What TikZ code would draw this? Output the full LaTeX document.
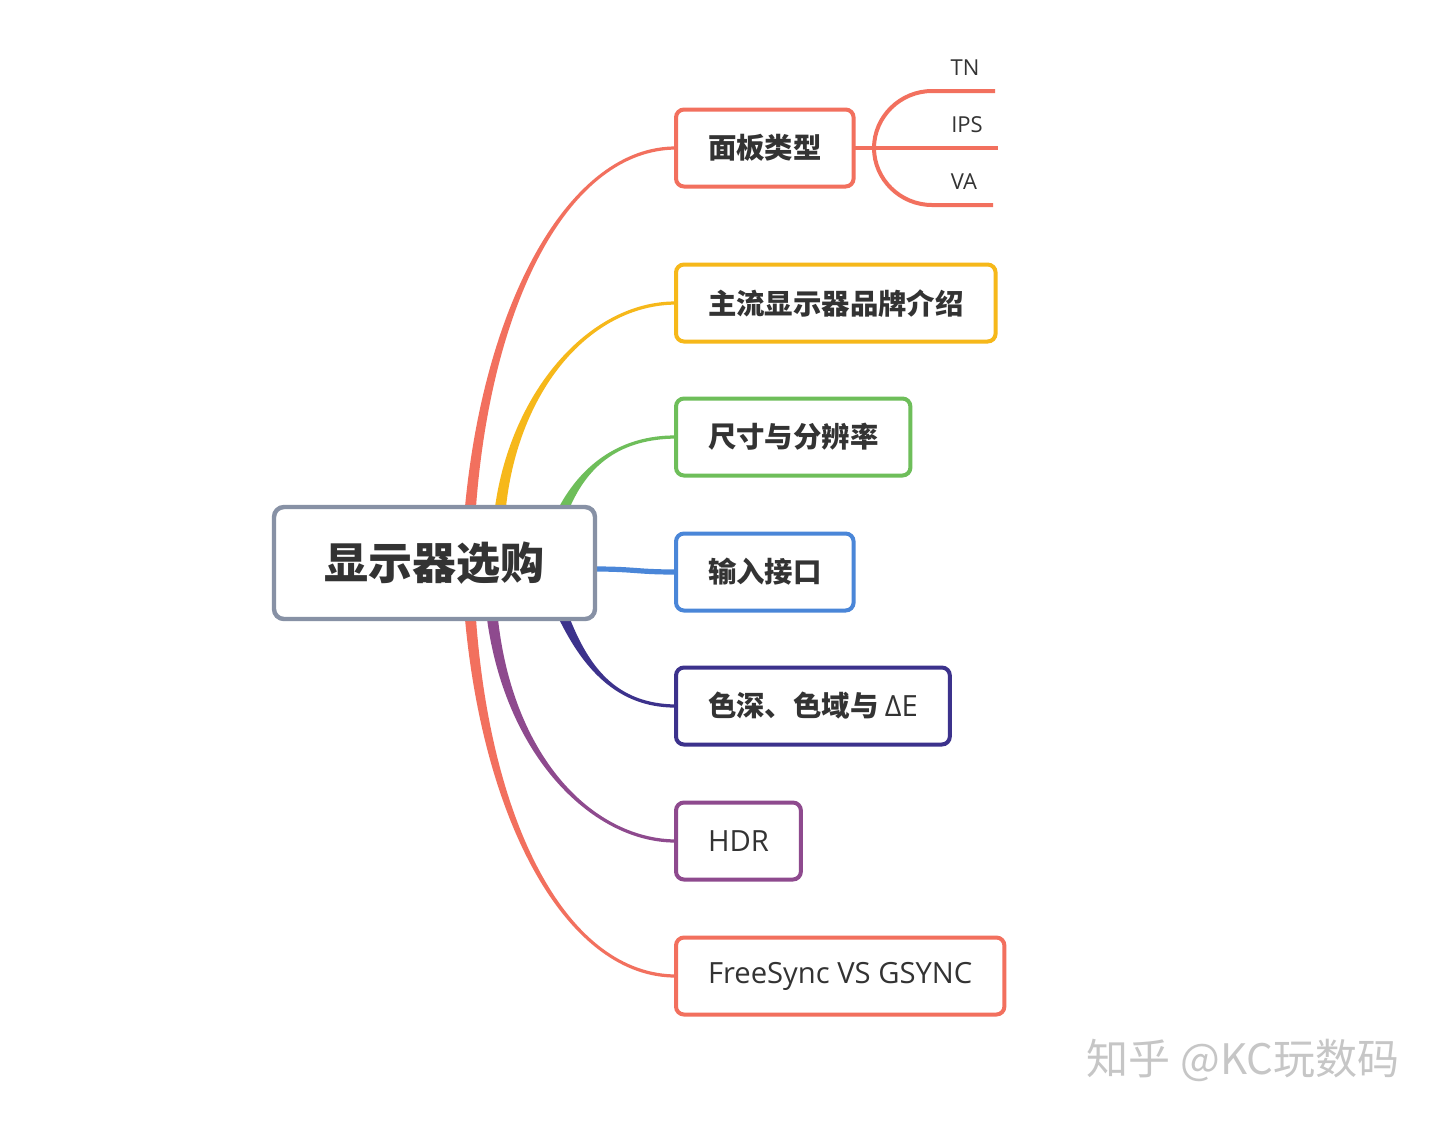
\documentclass[tikz,border=0pt]{standalone}
\usepackage{fontspec}
\setmainfont{Open Sans}
\newfontfamily\cjk{Noto Sans CJK SC}
\usetikzlibrary{calc}
\definecolor{salmon}{RGB}{242,112,94}
\definecolor{amber}{RGB}{246,184,26}
\definecolor{leafgreen}{RGB}{110,190,90}
\definecolor{skyblue}{RGB}{74,134,216}
\definecolor{navy}{RGB}{60,50,140}
\definecolor{plum}{RGB}{142,74,142}
\definecolor{hubgray}{RGB}{135,145,165}
\definecolor{ink}{RGB}{51,51,51}
\pgfdeclarelayer{bg}
\pgfdeclarelayer{branches}
\pgfsetlayers{bg,branches,main}
\tikzset{
  hubbox/.style={draw=hubgray, line width=2.2pt, rounded corners=5pt, fill=white,
    minimum width=160.5pt, minimum height=56pt, outer sep=0pt, text=ink,
    font=\cjk\bfseries\fontsize{22pt}{26pt}\selectfont},
  topic/.style={draw=#1, line width=2pt, rounded corners=4pt, fill=white, anchor=west,
    minimum height=38.5pt, inner xsep=16pt, outer sep=0pt, text=ink,
    font=\cjk\bfseries\fontsize{14.2pt}{16pt}\selectfont},
  latintopic/.style={topic=#1, font=\fontsize{14.6pt}{16pt}\selectfont},
  leaf/.style={text=ink, font=\fontsize{11pt}{13pt}\selectfont},
  subline/.style={draw=salmon, line width=2pt},
  watermark/.style={text=gray!45, font=\cjk\fontsize{21pt}{24pt}\selectfont}
}
% tapered branch: colour, root, control 1, control 2, end, side (1 up, -1 down)
\newcommand\branch[6]{%
  \fill[#1] ($(#2)+(-5.5,0)$) .. controls ($(#3)+(-3.5,0)$) and ($(#4)+(0,{-2*#6})$) .. ($(#5)+(0,{-1.6*#6})$)
    -- ($(#5)+(0,{1.6*#6})$) .. controls ($(#4)+(0,{2*#6})$) and ($(#3)+(3.5,0)$) .. ($(#2)+(5.5,0)$) -- cycle
}

\begin{document}
\begin{tikzpicture}[x=0.5pt, y=-0.5pt]
        \useasboundingbox (0,0) rectangle (1440,1121);
        \begin{pgfonlayer}{bg}
          \fill[white] (0,0) rectangle (1440,1121);
        \end{pgfonlayer}

        % The centre
        \node[hubbox] (hub) at (434.5,563) {显示器选购};

        % The topics
        \node[topic=salmon] (panel) at (676,148) {面板类型};
        \node[topic=amber] (brand) at (676,303) {主流显示器品牌介绍};
        \node[topic=leafgreen] (size) at (676,437) {尺寸与分辨率};
        \node[topic=skyblue] (port) at (676,572) {输入接口};
        \node[topic=navy] (colour) at (676,706) {色深、色域与 {\rmfamily\mdseries\fontsize{14.6pt}{16pt}\selectfont ΔE}};
        \node[latintopic=plum] (hdr) at (676,841) {HDR};
        \node[latintopic=salmon] (sync) at (676,976) {FreeSync VS GSYNC};

        % The branches
        \begin{pgfonlayer}{branches}
          \branch{salmon}{$(hub.north)+(36,0)$}{488,300}{570,148}{panel.west}{1};
          \branch{amber}{$(hub.north)+(66,0)$}{515,390}{590,303}{brand.west}{1};
          \branch{leafgreen}{$(hub.north)+(130,0)$}{585,465}{620,437}{size.west}{1};
          \draw[skyblue, line width=2.6pt] ($(hub.east)+(0,6)$) .. controls +(40,0) and +(-40,0) .. (port.west);
          \branch{navy}{$(hub.south)+(130,0)$}{585,665}{615,706}{colour.west}{-1};
          \branch{plum}{$(hub.south)+(58,0)$}{510,760}{595,841}{hdr.west}{-1};
          \branch{salmon}{$(hub.south)+(36,0)$}{488,830}{570,976}{sync.west}{-1};
        \end{pgfonlayer}

        % The panel types
        \coordinate (split) at (874,148);
        \coordinate (tnline) at (995,91);
        \coordinate (ipsline) at (998,148);
        \coordinate (valine) at (993,205);
        \draw[subline] (panel.east) -- (ipsline);
        \draw[subline] (split) .. controls (874,117) and (900,91) .. (932,91) -- (tnline);
        \draw[subline] (split) .. controls (874,179) and (900,205) .. (932,205) -- (valine);
        \node[leaf] (tn) at (965,68) {TN};
        \node[leaf] (ips) at (967,125) {IPS};
        \node[leaf] (va) at (964,182) {VA};

        \node[watermark] (credit) at (1243,1060) {知乎 @KC玩数码};
\end{tikzpicture}
\end{document}
